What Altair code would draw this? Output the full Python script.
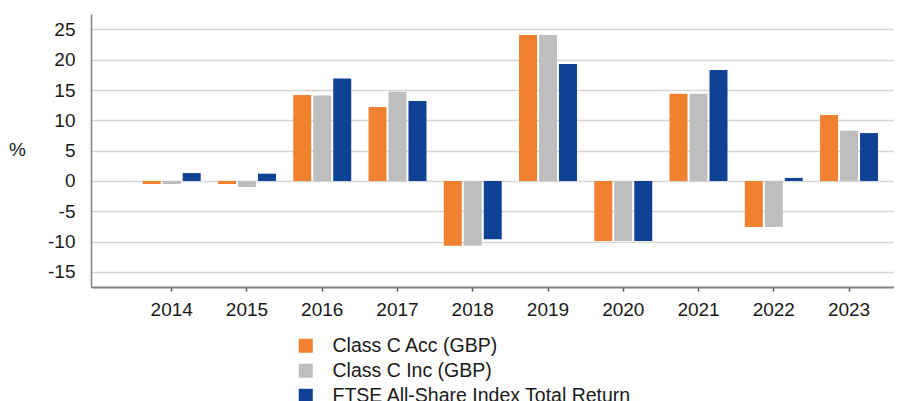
import altair as alt
import pandas as pd

years = ["2014", "2015", "2016", "2017", "2018", "2019", "2020", "2021", "2022", "2023"]
series_names = ["Class C Acc (GBP)", "Class C Inc (GBP)", "FTSE All-Share Index Total Return"]
class_c_acc = [-0.5, -0.5, 14.2, 12.2, -10.7, 24.1, -9.9, 14.4, -7.6, 10.9]
class_c_inc = [-0.5, -1.0, 14.1, 14.7, -10.7, 24.1, -9.9, 14.4, -7.6, 8.3]
ftse_all_share = [1.3, 1.2, 16.9, 13.2, -9.6, 19.3, -9.9, 18.3, 0.5, 7.9]
colors = ["#F0812F", "#BDBEC0", "#0F4194"]
y_ticks = [-15, -10, -5, 0, 5, 10, 15, 20, 25]

rows = []
for name, vals in zip(series_names, [class_c_acc, class_c_inc, ftse_all_share]):
    for yr, v in zip(years, vals):
        rows.append({"year": yr, "series": name, "value": v})
df = pd.DataFrame(rows)

FONT = "Liberation Sans"

chart = alt.Chart(df).mark_bar().encode(
    x=alt.X(
        "year:N",
        sort=years,
        scale=alt.Scale(paddingInner=0.23, paddingOuter=0.45, align=0.764),
        axis=alt.Axis(
            title=None, labelAngle=0, labelFontSize=19, labelColor="#1a1a1a",
            tickSize=4, tickColor="#555555", tickWidth=1.5,
            domainColor="#808080", domainWidth=2, labelPadding=9, grid=False,
        ),
    ),
    xOffset=alt.XOffset("series:N", sort=series_names,
                        scale=alt.Scale(domain=series_names, paddingInner=0.1, paddingOuter=0)),
    y=alt.Y(
        "value:Q",
        scale=alt.Scale(domain=[-17.5, 27.55], nice=False, zero=False),
        axis=alt.Axis(
            values=y_ticks, labelExpr="'' + datum.value",
            title="%", titleAngle=0, titleX=-74, titleY=135,
            titleAlign="center", titleBaseline="middle", titleFontSize=19,
            titleFontWeight="normal", titleColor="#1a1a1a",
            ticks=False, labelPadding=16, labelFontSize=19, labelColor="#1a1a1a",
            gridColor="#d6d6d6", gridWidth=1.5,
            domainColor="#808080", domainWidth=1.5,
        ),
    ),
    color=alt.Color(
        "series:N",
        sort=series_names,
        scale=alt.Scale(domain=series_names, range=colors),
        legend=alt.Legend(
            title=None, orient="none", legendX=205, legendY=322,
            symbolType="square", symbolSize=196, symbolStrokeWidth=0,
            labelFontSize=19.5, labelColor="#1a1a1a", labelOffset=17,
            rowPadding=4, padding=0, labelLimit=600,
        ),
    ),
).properties(
    width=803, height=273,
    padding={"left": 83, "top": 6, "right": 0, "bottom": 114},
    autosize="none",
).configure(font=FONT).configure_view(stroke=None)

chart.save("out.html", embed_options={"renderer": "svg", "actions": False})
